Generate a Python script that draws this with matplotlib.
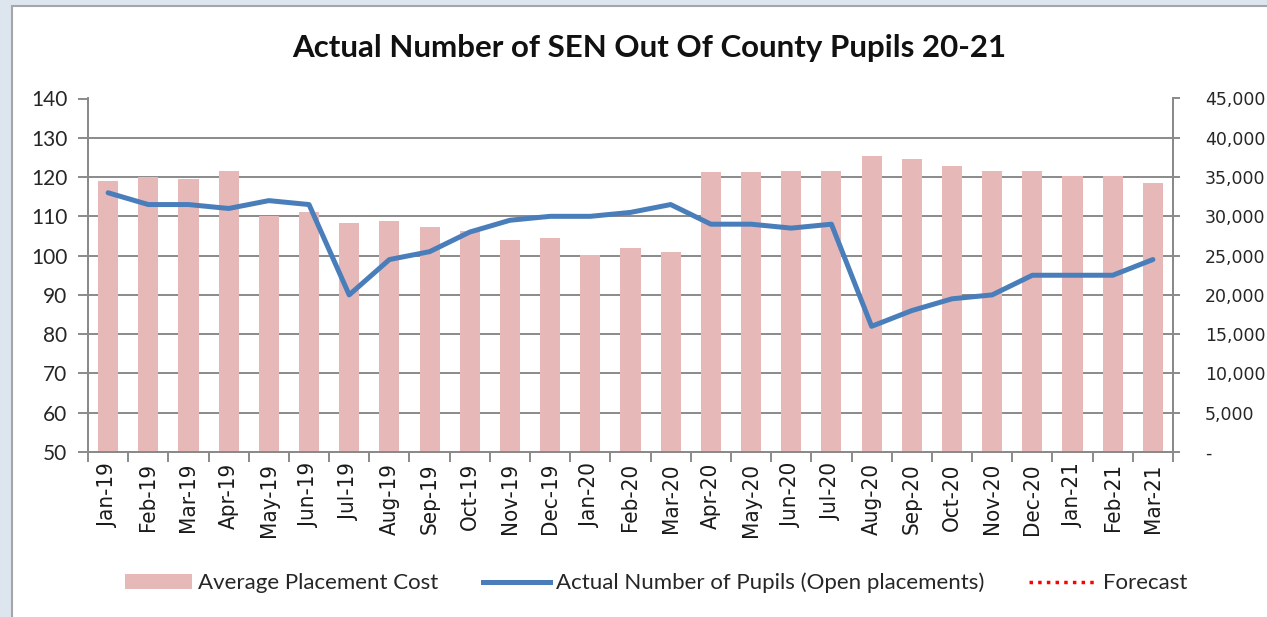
import numpy as np
import matplotlib
matplotlib.use("Agg")
import matplotlib.pyplot as plt
from matplotlib.patches import Rectangle
from matplotlib.lines import Line2D
from matplotlib.ticker import FuncFormatter

months = ["Jan-19", "Feb-19", "Mar-19", "Apr-19", "May-19", "Jun-19", "Jul-19",
          "Aug-19", "Sep-19", "Oct-19", "Nov-19", "Dec-19", "Jan-20", "Feb-20",
          "Mar-20", "Apr-20", "May-20", "Jun-20", "Jul-20", "Aug-20", "Sep-20",
          "Oct-20", "Nov-20", "Dec-20", "Jan-21", "Feb-21", "Mar-21"]

# average placement cost (right axis)
avg_cost = [34450, 34950, 34750, 35800, 30000, 30600, 29200, 29400, 28650,
            28150, 26950, 27300, 25050, 25950, 25500, 35650, 35650, 35750,
            35750, 37700, 37250, 36400, 35750, 35750, 35150, 35150, 34200]

# actual number of pupils, open placements (left axis)
pupils = [116, 113, 113, 112, 114, 113, 90, 99, 101, 106, 109, 110, 110, 111,
          113, 108, 108, 107, 108, 82, 86, 89, 90, 95, 95, 95, 99]

# forecast series has no points shown in the chart
forecast = [np.nan] * len(months)

W, H = 1267, 617
fig = plt.figure(figsize=(W / 100, H / 100), dpi=100)
fig.patch.set_facecolor("#dde5ef")
fig.add_artist(Rectangle((12 / W, -0.05), 1.1, 1 - 6 / H + 0.05,
                         transform=fig.transFigure, facecolor="white",
                         edgecolor="#a6a6a6", linewidth=1.5, zorder=0))

left, right, top, bottom = 88 / W, 1173 / W, 98.5 / H, 452 / H
ax = fig.add_axes([left, 1 - bottom, right - left, bottom - top])
ax2 = ax.twinx()

x = np.arange(len(months))
grid_col = "#8a8a8a"

# bars on the right axis, behind the line
ax2.bar(x, avg_cost, width=0.5, color="#e6b9b8", zorder=2)
ax2.set_ylim(0, 45000)
ax2.set_yticks(np.arange(0, 45001, 5000))
ax2.yaxis.set_major_formatter(FuncFormatter(lambda v, p: "-" if v == 0 else f"{int(v):,}"))
ax2.grid(axis="y", color=grid_col, linewidth=1.4, zorder=0)
ax2.set_axisbelow(True)
ax2.patch.set_visible(True)
ax2.patch.set_facecolor("white")

ax.set_zorder(ax2.get_zorder() + 1)
ax.patch.set_visible(False)
ax.plot(x, pupils, color="#4a7ebb", linewidth=3.6, solid_capstyle="round", zorder=3)
ax.plot(x, forecast, color="red", linestyle=(0, (1, 1.5)), linewidth=2.5)
ax.set_ylim(50, 140)
ax.set_yticks(np.arange(50, 141, 10))
ax.set_xlim(-0.5, len(months) - 0.5)

ax.set_xticks(x)
ax.set_xticklabels(months, rotation=90, fontsize=16, family="DejaVu Sans",
                   fontstretch="condensed", color="#1a1a1a")
ax.set_xticks(np.arange(-0.5, len(months), 1), minor=True)
ax.tick_params(axis="x", which="major", length=0, pad=8)
ax.tick_params(axis="x", which="minor", length=7, width=1.4, color=grid_col)
ax.tick_params(axis="y", length=7, width=1.4, color=grid_col, pad=8)
for lab in ax.get_yticklabels():
    lab.set_fontfamily("Lato")
    lab.set_fontsize(15)
    lab.set_color("#262626")
ax2.tick_params(axis="y", length=5, width=1.4, color=grid_col, pad=18)
for lab in ax2.get_yticklabels():
    lab.set_fontfamily("DejaVu Sans")
    lab.set_fontsize(12.5)
    lab.set_color("#262626")

for a in (ax, ax2):
    for s in a.spines.values():
        s.set_color(grid_col)
        s.set_linewidth(1.4)
    a.spines["top"].set_visible(False)

fig.text(649 / W, 1 - 48 / H, "Actual Number of SEN Out Of County Pupils 20-21",
         ha="center", va="center", fontsize=22.5, fontweight="bold", family="Lato",
         color="#111111")

handles = [
    Rectangle((0, 0), 1, 1, facecolor="#e6b9b8"),
    Line2D([], [], color="#4a7ebb", linewidth=3.6),
    Line2D([], [], color="red", linestyle=(0, (1, 1.5)), linewidth=2.5),
]
labels = ["Average Placement Cost", "Actual Number of Pupils (Open placements)", "Forecast"]
fig.legend(handles, labels, loc="center", bbox_to_anchor=(656 / W, 1 - 583 / H),
           ncol=3, frameon=False, prop={"family": "Lato", "size": 16},
           handlelength=3.0, handletextpad=0.3, columnspacing=2.0,
           labelcolor="#262626")

fig.savefig("out.png", dpi=100, facecolor=fig.get_facecolor())
